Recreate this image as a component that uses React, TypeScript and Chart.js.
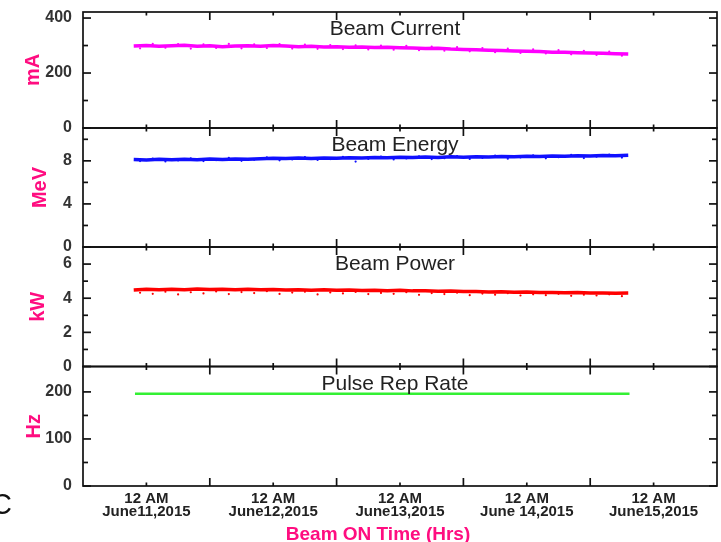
import React, { useEffect, useRef } from 'react';
import { Chart, registerables } from 'chart.js';

Chart.register(...registerables);

// Time in days relative to 12 AM, June 11, 2015
const TIME = [
  -0.1, 0.0, 0.1, 0.2, 0.3, 0.4, 0.5, 0.6, 0.7, 0.8, 0.9, 1.0, 1.1, 1.2, 1.3, 1.4, 1.5, 1.6, 1.7, 1.8,
  1.9, 2.0, 2.1, 2.2, 2.3, 2.4, 2.5, 2.6, 2.7, 2.8, 2.9, 3.0, 3.1, 3.2, 3.3, 3.4, 3.5, 3.6, 3.7, 3.8,
];
const NOISE_TIME = [
  -0.05, 0.05, 0.15, 0.25, 0.35, 0.45, 0.55, 0.65, 0.75, 0.85, 0.95, 1.05, 1.15, 1.25, 1.35, 1.45, 1.55,
  1.65, 1.75, 1.85, 1.95, 2.05, 2.15, 2.25, 2.35, 2.45, 2.55, 2.65, 2.75, 2.85, 2.95, 3.05, 3.15, 3.25,
  3.35, 3.45, 3.55, 3.65, 3.75,
];

const CURRENT = [
  298, 300, 297, 299, 301, 297, 299, 296, 298, 299, 297, 300, 298, 296, 297, 295, 296, 294, 295, 293,
  294, 292, 291, 289, 290, 287, 286, 285, 283, 282, 280, 279, 278, 276, 276, 274, 273, 272, 270, 269,
];
const CURRENT_NOISE = [
  290, 306, 292, 305, 289, 304, 291, 306, 290, 304, 291, 305, 289, 303, 288, 302, 287, 301, 286, 300,
  285, 299, 283, 296, 281, 294, 279, 291, 276, 289, 273, 286, 271, 283, 268, 281, 266, 278, 263,
];

const ENERGY = [
  8.12, 8.08, 8.14, 8.1, 8.15, 8.11, 8.16, 8.13, 8.18, 8.14, 8.2, 8.24, 8.21, 8.26, 8.22, 8.27, 8.24, 8.29,
  8.26, 8.31, 8.28, 8.33, 8.3, 8.35, 8.32, 8.37, 8.34, 8.39, 8.36, 8.41, 8.38, 8.43, 8.41, 8.45, 8.43, 8.47,
  8.45, 8.49, 8.47, 8.52,
];
const ENERGY_NOISE = [
  7.98, 8.22, 7.95, 8.03, 8.24, 7.98, 8.06, 8.27, 8.0, 8.1, 8.32, 8.05, 8.13, 8.35, 8.08, 8.16, 8.37, 7.93,
  8.18, 8.4, 8.13, 8.22, 8.42, 8.16, 8.25, 8.45, 8.18, 8.28, 8.48, 8.2, 8.31, 8.52, 8.23, 8.34, 8.55, 8.26,
  8.38, 8.58, 8.3,
];

const POWER = [
  4.48, 4.52, 4.49, 4.53, 4.5, 4.54, 4.51, 4.53, 4.5, 4.52, 4.49, 4.51, 4.48, 4.5, 4.47, 4.49, 4.46, 4.48,
  4.45, 4.47, 4.44, 4.46, 4.43, 4.44, 4.41, 4.42, 4.39, 4.4, 4.37, 4.38, 4.35, 4.36, 4.33, 4.34, 4.32, 4.33,
  4.3, 4.31, 4.29, 4.3,
];
const POWER_NOISE = [
  4.32, 4.26, 4.38, 4.22, 4.35, 4.28, 4.4, 4.24, 4.36, 4.3, 4.41, 4.25, 4.33, 4.38, 4.22, 4.34, 4.28, 4.37,
  4.24, 4.31, 4.26, 4.35, 4.2, 4.3, 4.24, 4.32, 4.18, 4.27, 4.21, 4.29, 4.16, 4.23, 4.18, 4.26, 4.14, 4.21,
  4.16, 4.23, 4.12,
];

const REP_TIME = [-0.09, 3.81];
const REP_RATE = [196, 196];

const DAY_TICKS = [0, 1, 2, 3, 4];
const DAY_LABELS = [
  ['12 AM', 'June11,2015'],
  ['12 AM', 'June12,2015'],
  ['12 AM', 'June13,2015'],
  ['12 AM', 'June 14,2015'],
  ['12 AM', 'June15,2015'],
];
const NOON_TICKS = [0.5, 1.5, 2.5, 3.5];

// panels listed top to bottom
const PANEL_IDS = ['yMA', 'yMeV', 'yKW', 'yHz'];
const PANEL_TITLES = ['Beam Current', 'Beam Energy', 'Beam Power', 'Pulse Rep Rate'];
const PANEL_UNITS = ['mA', 'MeV', 'kW', 'Hz'];
const PANEL_MAX = [422, 11.05, 7.0, 254];
const PANEL_MAJOR = [[0, 200, 400], [0, 4, 8], [0, 2, 4, 6], [0, 100, 200]];
const PANEL_MINOR = [[100, 300], [2, 6, 10], [1, 3, 5], [50, 150]];
const PANEL_WEIGHT = [116, 119, 119.5, 119.5];
const PANEL_TITLE_PAD = [21, 28, 26, 22];

const FONT = '"Liberation Sans", Arial, Helvetica, sans-serif';
const PINK = '#ff0d80';

const framePlugin = {
  id: 'framePlugin',
  afterDraw(chart: any) {
    const ctx = chart.ctx as CanvasRenderingContext2D;
    const { left, right } = chart.chartArea;
    const xs = chart.scales.x;
    const line = (x1: number, y1: number, x2: number, y2: number) => {
      ctx.beginPath();
      ctx.moveTo(x1, y1);
      ctx.lineTo(x2, y2);
      ctx.stroke();
    };
    ctx.save();
    ctx.strokeStyle = '#111';
    ctx.lineWidth = 1.7;
    PANEL_IDS.forEach((id, i) => {
      const s = chart.scales[id];
      ctx.strokeRect(left, s.top, right - left, s.bottom - s.top);
      const yTick = (v: number, len: number) => {
        const y = s.getPixelForValue(v);
        line(left, y, left + len, y);
        line(right, y, right - len, y);
      };
      PANEL_MAJOR[i].forEach((v) => yTick(v, 8));
      PANEL_MINOR[i].forEach((v) => yTick(v, 5));
      const xTick = (d: number, len: number) => {
        const x = xs.getPixelForValue(d);
        line(x, s.top, x, s.top + len);
        line(x, s.bottom, x, s.bottom - len);
      };
      DAY_TICKS.forEach((d) => xTick(d, 3.5));
      NOON_TICKS.forEach((d) => xTick(d, 8));
      ctx.fillStyle = '#222';
      ctx.font = `21px ${FONT}`;
      ctx.textAlign = 'center';
      ctx.textBaseline = 'alphabetic';
      ctx.fillText(PANEL_TITLES[i], (left + right) / 2 - 5, s.top + 23);
    });
    ctx.fillStyle = PINK;
    ctx.font = `bold 19px ${FONT}`;
    ctx.textAlign = 'center';
    ctx.fillText('Beam ON Time (Hrs)', 378, 540);
    ctx.fillStyle = '#111';
    ctx.font = `29px ${FONT}`;
    ctx.textAlign = 'left';
    ctx.fillText('C', -9, 514);
    ctx.restore();
  },
};

function pts(xs: number[], ys: number[]) {
  return xs.map((x, i) => ({ x, y: ys[i] }));
}

export default function App() {
  const ref = useRef<HTMLCanvasElement | null>(null);
  useEffect(() => {
    if (!ref.current) return;
    const scales: any = {
      x: {
        type: 'linear',
        min: -0.5,
        max: 4.5,
        grid: { display: false, drawTicks: false },
        border: { display: false },
        afterBuildTicks: (s: any) => {
          s.ticks = DAY_TICKS.map((v) => ({ value: v }));
        },
        afterFit: (s: any) => {
          s.height = 56;
          s.paddingLeft = 0;
          s.paddingRight = 0;
        },
        ticks: {
          autoSkip: false,
          maxRotation: 0,
          padding: 7,
          color: '#222',
          font: { family: FONT, size: 15, weight: 'bold', lineHeight: 0.82 },
          callback: (_v: any, i: number) => DAY_LABELS[i],
        },
      },
    };
    // define bottom panel first so stacking places it at bottom
    for (let k = PANEL_IDS.length - 1; k >= 0; k--) {
      const i = k;
      scales[PANEL_IDS[i]] = {
        type: 'linear',
        position: 'left',
        stack: 'panels',
        stackWeight: PANEL_WEIGHT[i],
        min: 0,
        max: PANEL_MAX[i],
        grid: { display: false, drawTicks: false },
        border: { display: false },
        afterBuildTicks: (s: any) => {
          s.ticks = PANEL_MAJOR[i].map((v) => ({ value: v }));
        },
        afterFit: (s: any) => {
          s.width = 83;
          s.paddingTop = 0;
          s.paddingBottom = 0;
        },
        ticks: {
          padding: 11,
          color: '#333',
          font: { family: FONT, size: 16, weight: 'bold' },
        },
        title: {
          display: true,
          text: PANEL_UNITS[i],
          color: PINK,
          font: { family: FONT, size: 20, weight: 'bold' },
          padding: { top: PANEL_TITLE_PAD[i], bottom: 0 },
        },
      };
    }
    const chart = new Chart(ref.current, {
      type: 'scatter',
      data: {
        datasets: [
          { data: pts(TIME, CURRENT), yAxisID: 'yMA', showLine: true, borderColor: '#ff00ff', borderWidth: 3.5, pointRadius: 0 },
          { data: pts(NOISE_TIME, CURRENT_NOISE), yAxisID: 'yMA', showLine: false, backgroundColor: '#ff00ff', borderWidth: 0, pointRadius: 1.1 },
          { data: pts(TIME, ENERGY), yAxisID: 'yMeV', showLine: true, borderColor: '#1010ff', borderWidth: 3.5, pointRadius: 0 },
          { data: pts(NOISE_TIME, ENERGY_NOISE), yAxisID: 'yMeV', showLine: false, backgroundColor: '#1010ff', borderWidth: 0, pointRadius: 1.1 },
          { data: pts(TIME, POWER), yAxisID: 'yKW', showLine: true, borderColor: '#ff0000', borderWidth: 3.5, pointRadius: 0 },
          { data: pts(NOISE_TIME, POWER_NOISE), yAxisID: 'yKW', showLine: false, backgroundColor: '#ff0000', borderWidth: 0, pointRadius: 1.1 },
          { data: pts(REP_TIME, REP_RATE), yAxisID: 'yHz', showLine: true, borderColor: '#33f033', borderWidth: 2.5, pointRadius: 0 },
        ],
      },
      options: {
        responsive: false,
        animation: false,
        layout: { padding: { left: 0, right: 3, top: 12, bottom: 0 } },
        plugins: { legend: { display: false }, tooltip: { enabled: false }, title: { display: false } },
        scales,
      },
      plugins: [framePlugin],
    } as any);
    return () => chart.destroy();
  }, []);
  return (
    <div style={{ position: 'absolute', left: 0, top: 0, width: 721, height: 542, background: '#fff' }}>
      <canvas ref={ref} width={721} height={542} style={{ width: 721, height: 542, display: 'block' }} />
    </div>
  );
}
